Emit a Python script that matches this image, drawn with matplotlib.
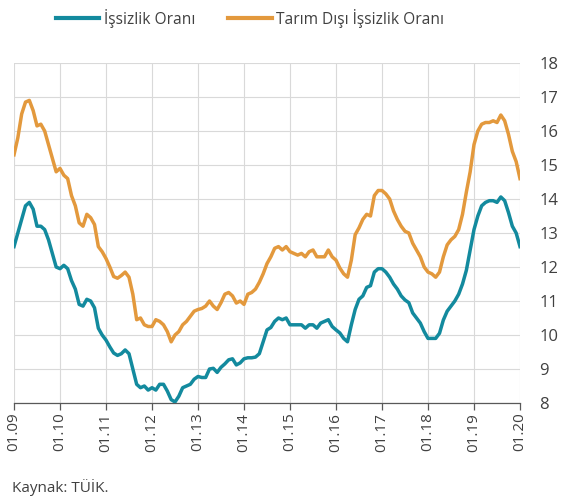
import matplotlib.pyplot as plt
import numpy as np
from matplotlib.lines import Line2D

# ---------------------------------------------------------------------------
# Data (monthly, 01.2009 - 01.2020)
# ---------------------------------------------------------------------------

years = [f"01.{y:02d}" for y in range(9, 21)]

unemployment = [
    12.6, 13.0, 13.4, 13.8, 13.9, 13.7, 13.2, 13.2, 13.1, 12.8, 12.4, 12.0,    # 2009
    11.95, 12.05, 11.95, 11.6, 11.35, 10.9, 10.85, 11.05, 11.0, 10.8, 10.2, 10.0,  # 2010
    9.85, 9.65, 9.47, 9.4, 9.45, 9.56, 9.45, 9.0, 8.55, 8.45, 8.5, 8.38,      # 2011
    8.45, 8.38, 8.55, 8.55, 8.35, 8.1, 8.03, 8.2, 8.45, 8.5, 8.55, 8.7,       # 2012
    8.78, 8.75, 8.75, 9.0, 9.02, 8.9, 9.05, 9.15, 9.27, 9.3, 9.12, 9.18,      # 2013
    9.3, 9.33, 9.33, 9.35, 9.45, 9.8, 10.15, 10.22, 10.4, 10.5, 10.45, 10.5,  # 2014
    10.3, 10.3, 10.3, 10.3, 10.2, 10.3, 10.3, 10.2, 10.35, 10.4, 10.45, 10.25,  # 2015
    10.15, 10.06, 9.9, 9.8, 10.3, 10.75, 11.05, 11.15, 11.4, 11.45, 11.85, 11.95,  # 2016
    11.95, 11.85, 11.7, 11.5, 11.35, 11.15, 11.03, 10.95, 10.65, 10.5, 10.35, 10.1,  # 2017
    9.9, 9.9, 9.9, 10.05, 10.44, 10.7, 10.85, 11.0, 11.2, 11.5, 11.9, 12.5,   # 2018
    13.1, 13.5, 13.8, 13.9, 13.95, 13.95, 13.9, 14.06, 13.95, 13.6, 13.2, 13.0,  # 2019
    12.6,                                                                     # 2020
]

nonfarm_unemployment = [
    15.3, 15.8, 16.5, 16.85, 16.9, 16.6, 16.15, 16.2, 16.0, 15.6, 15.2, 14.8,
    14.9, 14.7, 14.6, 14.1, 13.8, 13.3, 13.2, 13.55, 13.45, 13.25, 12.6, 12.45,
    12.25, 12.0, 11.72, 11.67, 11.75, 11.85, 11.7, 11.2, 10.45, 10.5, 10.3, 10.25,
    10.25, 10.45, 10.4, 10.3, 10.1, 9.8, 10.0, 10.1, 10.3, 10.4, 10.55, 10.7,
    10.75, 10.78, 10.85, 11.0, 10.85, 10.75, 10.95, 11.2, 11.25, 11.15, 10.94, 11.0,
    10.9, 11.2, 11.25, 11.35, 11.55, 11.8, 12.1, 12.3, 12.55, 12.6, 12.5, 12.6,
    12.45, 12.4, 12.35, 12.4, 12.3, 12.45, 12.5, 12.3, 12.3, 12.3, 12.5, 12.3,
    12.2, 11.97, 11.8, 11.7, 12.2, 12.95, 13.15, 13.4, 13.55, 13.5, 14.1, 14.25,
    14.25, 14.15, 14.0, 13.65, 13.4, 13.2, 13.05, 13.0, 12.7, 12.5, 12.3, 12.0,
    11.85, 11.8, 11.7, 11.85, 12.3, 12.65, 12.8, 12.9, 13.1, 13.55, 14.2, 14.8,
    15.6, 16.0, 16.2, 16.25, 16.25, 16.3, 16.25, 16.47, 16.3, 15.9, 15.4, 15.1,
    14.6,
]

TEAL = "#138a9e"
ORANGE = "#e3993d"
TEXT = "#404040"
GRID = "#d9d9d9"

plt.rcParams["font.family"] = ["Open Sans", "DejaVu Sans"]

fig = plt.figure(figsize=(5.72, 4.99), dpi=100)
ax = fig.add_axes([14 / 572, 1 - 403 / 499, (520 - 14) / 572, (403 - 63) / 499])

months = np.arange(len(unemployment))
ax.plot(months, nonfarm_unemployment, color=ORANGE, lw=2.5, solid_joinstyle="round", zorder=3)
ax.plot(months, unemployment, color=TEAL, lw=2.5, solid_joinstyle="round", zorder=4)

ax.set_xlim(0, len(unemployment) - 1)
ax.set_ylim(8, 18)

year_pos = np.arange(0, len(unemployment), 12)
ax.set_xticks(year_pos)
ax.set_xticklabels(years, rotation=90, fontsize=11, color=TEXT)
ax.set_yticks(np.arange(8, 19, 1))
ax.yaxis.tick_right()
ax.tick_params(axis="y", length=0, pad=14, labelsize=12, labelcolor=TEXT)
ax.tick_params(axis="x", length=5, width=0.9, color="#595959", pad=2)

ax.grid(True, color=GRID, lw=0.8, zorder=0)
ax.set_axisbelow(True)
for side in ("left", "right", "top"):
    ax.spines[side].set_visible(False)
ax.spines["bottom"].set_color("#595959")
ax.spines["bottom"].set_linewidth(0.9)

handles = [
    Line2D([], [], color=TEAL, lw=3),
    Line2D([], [], color=ORANGE, lw=3),
]
fig.legend(handles, ["İşsizlik Oranı", "Tarım Dışı İşsizlik Oranı"],
           loc="center", bbox_to_anchor=(250 / 572, 1 - 18 / 499), ncol=2,
           frameon=False, fontsize=11.2, handlelength=2.8, handletextpad=0.3,
           columnspacing=2.1, labelcolor=TEXT)

fig.text(12 / 572, 1 - 487 / 499, "Kaynak: TÜİK.", fontsize=11, color=TEXT,
         ha="left", va="center")

fig.savefig("out.png", dpi=100)
